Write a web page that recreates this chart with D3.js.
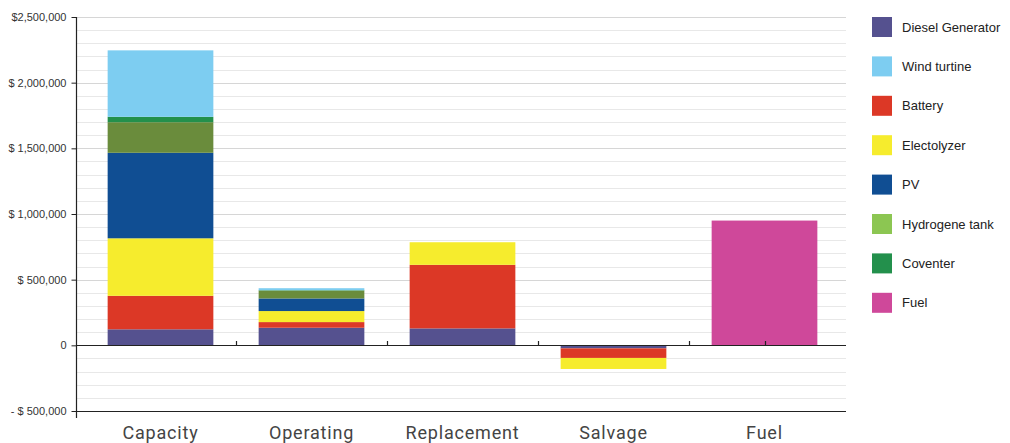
<!DOCTYPE html>
<html>
<head>
<meta charset="utf-8">
<script src="https://cdn.jsdelivr.net/npm/d3@7"></script>
<style>
  html, body { margin: 0; padding: 0; background: #fff; }
  svg { display: block; }
</style>
</head>
<body>
<svg id="chart" width="1010" height="443"></svg>
<script>
// Cost categories along the x axis
const categories = ["Capacity", "Operating", "Replacement", "Salvage", "Fuel"];

// Components (legend order) and stack order, bottom to top
const series = ["Diesel Generator", "Wind turtine", "Battery", "Electolyzer", "PV", "Hydrogene tank", "Coventer", "Fuel"];
const stackOrder = ["Diesel Generator", "Battery", "Electolyzer", "PV", "Hydrogene tank", "Coventer", "Wind turtine", "Fuel"];

// Cost of each component per category ($)
const dieselGenerator = [122000, 134000, 129000, -23000, 0];
const windTurtine     = [506000, 15000, 0, 0, 0];
const battery         = [255000, 43000, 484000, -73000, 0];
const electolyzer     = [438000, 84000, 172000, -84000, 0];
const pv              = [651000, 96000, 0, 0, 0];
const hydrogeneTank   = [233000, 60000, 0, 0, 0];
const coventer        = [41000, 3000, 0, 0, 0];
const fuel            = [0, 0, 0, 0, 950000];

// Y axis ticks
const yTicks = [-500000, 0, 500000, 1000000, 1500000, 2000000, 2500000];
const yTickLabels = ["- $ 500,000", "0", "$ 500,000", "$ 1,000,000", "$ 1,500,000", "$ 2,000,000", "$2,500,000"];

const valuesBySeries = {
  "Diesel Generator": dieselGenerator,
  "Wind turtine": windTurtine,
  "Battery": battery,
  "Electolyzer": electolyzer,
  "PV": pv,
  "Hydrogene tank": hydrogeneTank,
  "Coventer": coventer,
  "Fuel": fuel
};

const barColor = {
  "Diesel Generator": "#55518f",
  "Wind turtine": "#7dcdf1",
  "Battery": "#dc3826",
  "Electolyzer": "#f6ec2d",
  "PV": "#104e93",
  "Hydrogene tank": "#6a8c3c",
  "Coventer": "#23904c",
  "Fuel": "#cf489a"
};
const legendColor = Object.assign({}, barColor, { "Hydrogene tank": "#8cc652" });

const svg = d3.select("#chart");
const plotLeft = 76, plotRight = 846, plotTop = 17, plotBottom = 411;

const x = d3.scaleBand().domain(categories).range([85, 840]).paddingInner(0.3).paddingOuter(0.15);
const y = d3.scaleLinear().domain([-500000, 2500000]).range([plotBottom, plotTop]);

// Minor gridlines every 100,000
const gridVals = d3.range(-500000, 2500001, 100000);
svg.append("g").selectAll("line").data(gridVals).join("line")
  .attr("x1", plotLeft).attr("x2", plotRight)
  .attr("y1", d => Math.round(y(d)) + 0.5).attr("y2", d => Math.round(y(d)) + 0.5)
  .attr("stroke", d => d % 500000 === 0 ? "#d6d6d6" : "#e8e8e8")
  .attr("stroke-width", 1);

// Stacked bars (positive and negative values stacked away from zero)
const rows = categories.map((c, i) => {
  const r = { category: c };
  stackOrder.forEach(s => r[s] = valuesBySeries[s][i]);
  return r;
});
const stacked = d3.stack().keys(stackOrder).offset(d3.stackOffsetDiverging)(rows);

svg.append("g").selectAll("g").data(stacked).join("g")
  .attr("fill", d => barColor[d.key])
  .selectAll("rect").data(d => d.filter(p => p[1] !== p[0])).join("rect")
  .attr("x", d => x(d.data.category))
  .attr("width", x.bandwidth())
  .attr("y", d => y(Math.max(d[0], d[1])))
  .attr("height", d => Math.abs(y(d[0]) - y(d[1])));

// Zero line with small upward ticks
svg.append("line")
  .attr("x1", plotLeft).attr("x2", plotRight)
  .attr("y1", Math.round(y(0)) + 0.5).attr("y2", Math.round(y(0)) + 0.5)
  .attr("stroke", "#222").attr("stroke-width", 1.2);
const zeroTicks = categories.slice(1).map(c => x(c) - x.step() * x.paddingInner() / 2)
  .concat([x("Fuel") + x.bandwidth() / 2]);
svg.append("g").selectAll("line").data(zeroTicks).join("line")
  .attr("x1", d => Math.round(d) + 0.5).attr("x2", d => Math.round(d) + 0.5)
  .attr("y1", Math.round(y(0))).attr("y2", Math.round(y(0)) - 4)
  .attr("stroke", "#222").attr("stroke-width", 1.2);

// Bottom axis line
svg.append("line")
  .attr("x1", plotLeft).attr("x2", plotRight)
  .attr("y1", plotBottom + 0.5).attr("y2", plotBottom + 0.5)
  .attr("stroke", "#222").attr("stroke-width", 1.2);

// Y axis
const yAxis = d3.axisLeft(y).tickValues(yTicks).tickSize(5).tickPadding(5)
  .tickFormat((d, i) => yTickLabels[i]);
const gy = svg.append("g").attr("transform", `translate(${plotLeft + 0.5},0)`).call(yAxis);
gy.select(".domain").attr("d", `M0,${plotTop}V${plotBottom + 7}`).attr("stroke", "#222").attr("stroke-width", 1.2);
gy.selectAll(".tick line").attr("stroke", "#222");
gy.selectAll(".tick text")
  .attr("fill", "#333")
  .style("font-family", "'Liberation Sans Narrow', 'Liberation Sans', Arial, sans-serif")
  .style("font-size", "11px");

// Category labels
svg.append("g").selectAll("text").data(categories).join("text")
  .attr("x", d => x(d) + x.bandwidth() / 2)
  .attr("y", 439)
  .attr("text-anchor", "middle")
  .attr("fill", "#444")
  .style("font-family", "'Liberation Sans Narrow', Roboto, sans-serif")
  .style("font-size", "18px")
  .style("letter-spacing", "0.8px")
  .text(d => d);

// Legend
const legend = svg.append("g").selectAll("g").data(series).join("g")
  .attr("transform", (d, i) => `translate(872,${17 + i * 39.4})`);
legend.append("rect").attr("width", 20).attr("height", 20).attr("fill", d => legendColor[d]);
legend.append("text")
  .attr("x", 30).attr("y", 14.5)
  .attr("fill", "#222")
  .style("font-family", "'Liberation Sans', Arial, sans-serif")
  .style("font-size", "13px")
  .text(d => d);
</script>
</body>
</html>
